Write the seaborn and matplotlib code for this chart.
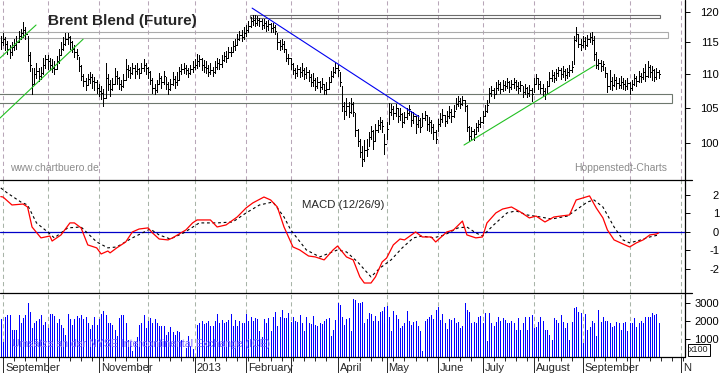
import numpy as np
import pandas as pd
import seaborn as sns
import matplotlib.pyplot as plt
from matplotlib.lines import Line2D
from matplotlib.patches import Rectangle
from matplotlib.ticker import NullLocator, FixedLocator

sns.set_style("white")
plt.rcParams['font.family'] = ['Liberation Sans', 'DejaVu Sans']
plt.rcParams['axes.unicode_minus'] = False

# ---- daily bars, Brent (one row per month, first bar = 31 Aug 2012) ----
cl = [115.0, 115.5, 114.8, 114.0, 113.5, 114.2, 114.6, 115.0, 116.0, 116.5, 117.0, 116.3, 113.0, 111.5, 108.5, 110.0, 110.5, 109.7, 110.2, 111.5, 112.3,
      112.0, 111.5, 111.0, 110.8, 112.0, 113.0, 114.0, 114.8, 115.5, 115.8, 115.0, 114.0, 113.5, 113.0, 111.3, 109.8, 109.0, 108.4, 109.3, 109.6, 109.0, 108.8, 108.0,
      107.5, 107.2, 106.5, 109.5, 108.6, 107.8, 108.5, 109.8, 109.5, 108.6, 108.2, 109.2, 110.8, 110.6, 110.2, 111.0, 110.5, 110.8, 110.2, 111.0, 111.5, 110.9,
      110.3, 109.2, 108.0, 107.6, 108.5, 109.5, 108.8, 109.7, 108.6, 107.8, 108.5, 109.3, 108.8, 109.2, 110.5, 110.8, 111.0, 110.6, 110.2, 110.8, 111.2,
      111.5, 112.0, 112.3, 111.5, 111.2, 111.0, 110.4, 110.7, 110.4, 111.2, 111.8, 111.6, 112.2, 112.8, 112.6, 113.4, 113.5, 114.4, 114.6, 115.6, 116.2, 115.8, 116.5,
      117.0, 117.6, 118.4, 118.6, 118.2, 118.6, 118.4, 117.8, 118.1, 117.6, 117.9, 117.3, 117.5, 116.9, 115.0, 114.4, 114.8, 114.0, 112.6, 112.5,
      111.6, 110.6, 110.2, 110.8, 110.3, 110.7, 110.0, 110.3, 109.6, 108.8, 109.2, 108.3, 108.8, 108.1, 108.6, 107.7, 107.8, 108.8, 109.8, 110.4, 111.0,
      110.6, 108.8, 105.2, 104.6, 105.3, 104.4, 105.6, 104.4, 101.8, 100.2, 98.8, 97.8, 99.0, 99.2, 100.8, 101.6, 100.2, 101.8, 102.5, 102.9, 102.4, 99.8,
      102.0, 104.4, 104.8, 104.2, 104.9, 103.8, 104.1, 103.0, 103.6, 104.3, 104.8, 103.2, 103.8, 102.6, 103.2, 102.2, 103.5, 104.0, 102.6, 102.9, 102.2, 101.5, 100.6,
      102.6, 103.4, 103.9, 103.1, 103.8, 104.4, 103.8, 104.6, 105.6, 106.0, 105.6, 106.2, 105.3, 102.3, 101.0, 101.6, 101.2, 102.2, 102.6, 102.9,
      103.8, 104.6, 105.4, 107.2, 107.6, 107.1, 108.0, 108.5, 107.8, 108.4, 108.3, 108.8, 108.1, 108.6, 108.9, 108.3, 107.9, 108.4, 107.3, 107.9, 107.2, 107.6, 107.1,
      108.5, 109.4, 108.5, 108.0, 107.5, 107.1, 108.2, 109.5, 109.9, 109.4, 110.2, 110.6, 110.0, 110.5, 109.9, 110.4, 110.7, 111.2, 115.4, 116.4, 114.8, 114.5,
      115.2, 114.6, 115.5, 115.9, 115.4, 113.2, 111.5, 111.8, 111.3, 111.6, 110.2, 108.2, 109.0, 108.4, 109.2, 108.7, 108.4, 108.9, 108.6, 108.2, 108.7,
      107.9, 108.6, 109.4, 109.0, 109.8, 109.6, 110.4, 109.8, 111.2, 110.4, 110.6, 109.6, 110.3, 110.0]
hi = [116.0, 116.5, 115.8, 115.2, 114.6, 115.0, 115.5, 116.0, 116.8, 117.2, 118.3, 117.5, 116.0, 113.5, 111.0, 111.0, 111.7, 111.0, 111.2, 112.5, 113.0,
      113.0, 112.6, 112.3, 112.0, 112.8, 114.0, 115.0, 115.8, 116.5, 116.5, 116.0, 115.2, 114.6, 114.0, 112.7, 111.5, 110.1, 109.5, 110.0, 110.3, 110.0, 109.6, 109.2,
      108.6, 108.3, 107.8, 111.7, 110.0, 109.2, 109.5, 110.9, 110.5, 109.6, 109.2, 110.0, 112.4, 111.5, 111.2, 111.8, 111.5, 111.8, 111.0, 111.8, 112.4, 111.8,
      111.2, 110.5, 109.4, 108.5, 109.2, 110.2, 109.8, 110.5, 109.6, 108.8, 109.3, 110.4, 109.8, 110.3, 111.2, 111.6, 111.8, 111.4, 111.0, 111.5, 112.0,
      112.4, 113.2, 113.0, 112.6, 112.2, 112.0, 111.5, 111.8, 111.2, 112.0, 112.6, 112.4, 113.0, 113.5, 113.6, 114.2, 114.3, 115.2, 115.6, 116.3, 116.9, 117.0, 117.4,
      117.8, 118.4, 119.2, 119.4, 119.4, 119.3, 119.0, 118.8, 118.8, 118.5, 118.6, 118.2, 118.2, 117.8, 116.5, 115.4, 115.6, 115.2, 114.0, 113.2,
      112.6, 111.8, 111.0, 111.5, 111.2, 111.7, 111.0, 111.2, 110.6, 110.0, 110.2, 109.5, 109.6, 109.0, 109.4, 108.6, 108.8, 109.6, 110.5, 111.2, 111.9,
      111.5, 110.4, 108.2, 105.8, 106.4, 105.8, 106.4, 105.8, 104.2, 102.0, 100.6, 99.5, 100.4, 100.5, 101.5, 102.4, 101.8, 102.6, 103.3, 103.6, 103.2, 101.2,
      103.0, 105.7, 105.6, 105.3, 105.5, 105.0, 105.0, 104.2, 104.4, 105.0, 105.4, 104.5, 104.4, 103.8, 104.0, 103.5, 104.3, 104.6, 104.0, 103.6, 103.2, 102.6, 101.8,
      103.4, 104.2, 104.8, 104.0, 104.6, 105.2, 104.8, 105.4, 106.4, 106.8, 106.4, 106.8, 106.2, 105.4, 102.4, 102.2, 102.0, 102.8, 103.2, 103.6,
      104.6, 105.4, 106.2, 108.0, 108.3, 108.0, 108.8, 109.1, 108.8, 109.2, 109.0, 109.4, 109.0, 109.2, 109.4, 109.2, 108.8, 109.0, 108.2, 108.5, 108.1, 108.4, 108.0,
      109.4, 110.1, 109.5, 109.0, 108.6, 108.0, 109.0, 110.3, 110.6, 110.3, 110.8, 111.2, 111.0, 111.3, 110.8, 111.0, 111.5, 112.0, 116.0, 117.5, 116.4, 115.6,
      116.0, 115.8, 116.2, 116.5, 116.6, 116.0, 113.4, 112.4, 112.2, 112.1, 111.2, 110.2, 110.6, 109.6, 110.0, 109.6, 109.5, 109.8, 109.4, 109.2, 109.4,
      108.8, 109.2, 110.0, 109.8, 110.5, 110.2, 111.0, 111.6, 112.0, 111.4, 111.3, 110.8, 110.9, 110.6]
lo = [114.0, 114.5, 113.8, 113.2, 112.6, 113.0, 113.8, 114.0, 115.0, 115.5, 115.8, 115.5, 112.0, 110.5, 107.1, 108.5, 109.5, 109.0, 109.3, 110.0, 111.0,
      110.8, 110.6, 110.4, 110.0, 110.8, 111.8, 113.0, 113.8, 114.5, 114.8, 114.0, 113.4, 112.7, 112.3, 110.5, 109.2, 108.3, 107.6, 108.4, 108.7, 108.0, 107.6, 107.2,
      106.8, 106.3, 105.2, 106.5, 107.6, 106.7, 107.6, 108.5, 108.6, 107.8, 107.6, 108.1, 109.2, 109.6, 109.4, 110.0, 109.5, 110.0, 109.5, 110.2, 110.5, 110.0,
      109.5, 108.5, 107.2, 107.0, 107.4, 108.5, 108.0, 108.6, 107.8, 107.0, 107.6, 108.4, 108.0, 108.4, 109.2, 110.0, 110.2, 110.0, 109.6, 110.0, 110.3,
      110.8, 111.0, 111.3, 110.7, 110.4, 110.2, 109.8, 110.0, 109.8, 110.2, 110.8, 110.8, 111.2, 112.0, 111.9, 112.6, 112.8, 113.4, 113.8, 114.6, 115.4, 115.2, 115.6,
      116.0, 116.6, 117.4, 117.8, 117.6, 117.8, 117.6, 117.2, 117.3, 116.8, 117.0, 116.7, 116.6, 116.3, 114.0, 113.8, 114.0, 113.5, 112.0, 111.6,
      110.8, 110.0, 109.5, 109.8, 109.6, 109.8, 109.3, 109.5, 109.0, 108.2, 108.3, 107.7, 107.9, 107.4, 107.8, 107.1, 107.0, 107.8, 108.8, 109.6, 110.2,
      109.8, 108.2, 104.6, 103.4, 104.0, 103.6, 104.2, 103.8, 101.0, 99.5, 98.0, 96.8, 97.5, 98.2, 99.5, 100.5, 99.2, 100.4, 101.5, 102.0, 101.5, 98.5,
      100.5, 102.6, 104.0, 103.4, 103.8, 103.0, 103.2, 102.2, 102.8, 103.4, 104.0, 102.4, 102.8, 101.4, 102.2, 101.5, 102.4, 103.2, 101.8, 101.6, 101.4, 100.6, 100.0,
      101.6, 102.4, 103.0, 102.4, 102.8, 103.5, 103.0, 103.6, 104.8, 105.2, 105.0, 105.4, 104.6, 101.6, 100.2, 100.5, 100.4, 101.2, 101.6, 102.2,
      102.8, 103.8, 104.4, 105.8, 106.8, 106.5, 107.0, 107.6, 107.2, 107.5, 107.6, 108.0, 107.4, 107.8, 108.0, 107.6, 107.2, 107.5, 106.6, 107.0, 106.6, 106.8, 106.0,
      107.4, 108.6, 107.8, 107.2, 106.8, 106.3, 107.0, 108.4, 109.0, 108.8, 109.2, 109.7, 109.3, 109.6, 109.2, 109.5, 109.8, 110.4, 111.6, 115.2, 114.2, 113.8,
      114.3, 114.0, 114.4, 115.0, 114.8, 112.2, 110.9, 110.8, 110.5, 110.6, 109.6, 107.4, 107.8, 107.6, 108.2, 107.8, 107.9, 108.0, 107.8, 107.6, 107.8,
      107.0, 107.6, 108.4, 108.2, 108.8, 108.8, 109.3, 109.0, 109.6, 109.6, 109.2, 109.0, 109.3, 109.4]

# ---- volume (x100 contracts) ----
vol = [2090, 800, 2240, 2330, 2330, 1500, 1500, 1500, 2330, 1870, 2150, 2330, 2980, 2520, 1590, 1870, 2020, 2090, 2330, 1780,
       1960, 1590, 2390, 2390, 2280, 1910, 2090, 1780, 1590, 1220, 2390, 2090, 1780, 2090, 2280, 2150, 2330, 2090, 2200, 1870,
       1540, 1780, 2240, 1780, 2090, 2390, 2570, 2330, 1870, 1870, 1780, 1500, 1130, 2150, 2330, 2330, 1870,
       900, 800, 300, 800, 1100,
       1780, 1870, 2330, 1590, 2020, 2150, 1870, 2090, 1870, 1690, 1690, 1690, 1220, 1350, 1650, 1350, 1220, 1410, 1350,
       900, 0, 500, 1130, 600, 400, 0,
       1780, 1910, 2020, 1830, 1870, 2020, 1720, 1690, 2020, 2390, 1910, 2060, 1870, 1960,
       2060, 2390, 1690, 2060, 1690, 2020, 1910, 1870, 2390, 2020, 2240, 2020, 2150, 2090, 1410, 1090, 2090, 1870, 2150, 1410,
       2240, 2520, 1690, 2240, 2610, 2150, 2150, 2430, 1960, 2240, 2020, 1960, 2330, 1870, 1460, 2240, 1870, 1830, 2280, 1780,
       1690, 1870, 1830, 2020, 2090, 2150, 1130, 1500, 2060, 2980, 2890, 2240, 1780, 2090, 2150, 1460, 3260, 3170, 3020, 2980,
       3070, 1870, 2090, 2430, 2390, 2020, 2280, 2020, 2520, 2570, 2800, 2830, 2240, 1410, 2570, 2330, 2090, 1590, 1720, 1870,
       2570, 2020, 1780, 1960, 2020, 1690, 1410, 300, 2020, 2090, 2240, 2330, 2090, 2610, 2800, 2060, 2390, 1870, 1540, 2090, 2060,
       2150, 1870, 1960, 1590, 1690, 2980, 2610, 2520, 1870, 1960, 1870, 2240, 2280, 1870, 2430, 850, 2430, 1870, 1690, 1960,
       2240, 2020, 2150, 2060, 1870, 1870, 2020, 1870, 1500, 2150, 1500, 1870, 2240, 1500, 2240, 2330, 1590, 1650, 1960, 2240,
       2020, 1500, 1500, 1220, 940, 2150, 2060, 1870, 2330, 1960, 1590, 1870, 940, 1960, 2700, 2800, 2520, 2430, 760, 2390,
       1500, 1650, 2020, 1870, 1130, 2610, 1960, 2200, 2020, 2020, 1870, 1650, 1720, 1960, 1870, 1500, 1870, 1960, 1410, 1870,
       1870, 2150, 1650, 1870, 2020, 1870, 2240, 2200, 2200, 2430, 2330, 2390, 1870]

# ---- MACD (12/26/9) ----
macd_day = [0, 1, 5, 10, 12, 14, 18, 22, 23, 27, 31, 33, 36, 39, 43, 45, 48, 49, 52, 56,
            59, 62, 66, 68, 71, 75, 77, 83, 86, 88, 94, 97, 101, 106, 110, 113, 118, 121, 124, 127,
            131, 134, 138, 141, 145, 149, 151, 155, 158, 161, 163, 166, 168, 171, 173, 176, 179, 181, 186, 189,
            193, 195, 200, 203, 207, 209, 213, 216, 218, 222, 225, 229, 233, 237, 240, 244, 248, 251, 255, 258,
            261, 264, 267, 270, 272, 275, 279, 282, 285, 288, 291, 294, 295]
macd_val = [1.91, 1.89, 1.46, 1.51, 1.35, 0.27, -0.32, -0.22, -0.49, -0.16, 0.49, 0.49, 0.22, -0.70, -0.86, -1.19, -1.03, -1.13, -0.86, -0.54,
            0.0, 0.16, 0.22, -0.05, -0.38, -0.43, -0.32, 0.11, 0.49, 0.65, 0.65, 0.27, 0.38, 0.81, 1.30, 1.57, 1.89, 1.73, 1.35, 0.27,
            -0.81, -0.97, -1.30, -1.35, -1.51, -0.97, -0.76, -1.35, -1.51, -2.43, -2.76, -2.76, -2.43, -1.62, -1.41, -0.70, -0.38, -0.43, 0.0, -0.27,
            -0.27, -0.54, 0.0, 0.11, 0.59, -0.16, -0.32, -0.27, 0.49, 1.03, 1.24, 1.35, 1.08, 0.76, 0.86, 0.54, 0.81, 0.86, 0.92, 1.73,
            1.84, 1.95, 1.30, 0.76, 0.11, -0.43, -0.65, -0.81, -0.59, -0.43, -0.16, -0.11, -0.05]
sig_day = [0, 3, 9, 12, 16, 21, 24, 30, 36, 43, 48, 52, 59, 67, 71, 76, 82, 89, 97, 104,
           110, 116, 122, 127, 130, 137, 143, 151, 155, 160, 166, 170, 175, 180, 185, 189, 194, 199, 205, 209,
           213, 216, 221, 227, 231, 236, 242, 247, 254, 258, 263, 266, 270, 275, 279, 282, 287, 291, 295]
sig_val = [2.38, 2.10, 1.62, 1.46, 0.49, 0.0, -0.32, 0.22, 0.27, -0.54, -0.86, -0.81, -0.32, 0.16, -0.16, -0.38, -0.05, 0.49, 0.49, 0.54,
           1.03, 1.46, 1.62, 0.81, 0.11, -0.97, -1.35, -0.97, -1.08, -1.62, -2.43, -1.95, -1.51, -0.86, -0.32, -0.22, -0.32, -0.16, 0.22, 0.27,
           -0.05, -0.22, 0.38, 1.03, 1.14, 0.92, 0.81, 0.70, 0.86, 1.19, 1.62, 1.73, 1.35, 0.27, -0.43, -0.59, -0.43, -0.27, -0.16]

# ---- drawn trend lines and zones ----
green_day = [[-0.4, 15.8], [-0.4, 36.9], [207.7, 266.5]]
green_price = [[112.5, 117.8], [103.5, 115.5], [99.7, 111.4]]
blue_day = [112.7, 187.5]
blue_price = [120.6, 103.7]
zone_day = [(111.7, 295.6), (-5, 299.2), (-5, 301.0)]
zone_lo = [119.03, 115.7, 105.7]
zone_hi = [119.45, 116.66, 107.04]

price_ticks = [100, 105, 110, 115, 120]
macd_ticks = [-2, -1, 0, 1, 2]
vol_ticks = [1000, 2000, 3000]
label_months = ['2012-09', '2012-11', '2013-01', '2013-02', '2013-04', '2013-05',
                '2013-06', '2013-07', '2013-08', '2013-09', '2013-11']
label_text = ['September', 'November', '2013', 'February', 'April', 'May',
              'June', 'July', 'August', 'September', 'N']

# trading-day axis (weekdays)
days = pd.bdate_range('2012-08-31', '2013-12-31')
month_starts = pd.date_range('2012-09-01', '2013-11-01', freq='MS')
month_idx = [days.searchsorted(d) for d in month_starts]
monday_idx = list(np.where(days.weekday == 0)[0])
idx = np.arange(len(cl))
vidx = np.arange(len(vol))

W, H = 723, 373
X0, X1 = -0.36, 306.8
AX_R = 685


def fx(p):
    return p / W


def fy(p):
    return 1 - p / H


def day_px(d):
    return (d - X0) / (X1 - X0) * AX_R


fig = plt.figure(figsize=(W / 100, H / 100), dpi=100)
ax_p = fig.add_axes([0, fy(180), fx(AX_R), 180 / H])
ax_m = fig.add_axes([0, fy(293), fx(AX_R), 113 / H])
ax_v = fig.add_axes([0, fy(356.5), fx(AX_R), 63.5 / H])

for ax in (ax_p, ax_m, ax_v):
    ax.set_xlim(X0, X1)
    for s in ax.spines.values():
        s.set_visible(False)
    ax.patch.set_alpha(0)

# ---- price panel ----
ax_p.set_yscale('log')
ax_p.set_ylim(94.97, 121.97)
for m in month_idx:
    ax_p.axvline(m, color='#b8a6b8', lw=0.75, dashes=(4, 3), zorder=0)
for (d0, d1), plo, phi, c in zip(zone_day, zone_lo, zone_hi, ['#6c6c6c', '#ababab', '#6e786e']):
    ax_p.add_patch(Rectangle((d0, plo), d1 - d0, phi - plo, fill=False, ec=c, lw=0.8, zorder=1))
ax_p.vlines(idx, lo, hi, color='black', lw=0.72, antialiased=False, zorder=3)
ax_p.hlines(cl, idx, idx + 0.6, color='black', lw=0.72, antialiased=False, zorder=3)
for gd, gp in zip(green_day, green_price):
    ax_p.plot(gd, gp, color='#22c022', lw=0.8, zorder=4)
ax_p.plot(blue_day, blue_price, color='#0000f0', lw=0.8, zorder=4)

# ---- MACD panel ----
ax_m.set_ylim(-3.3, 2.81)
for m in month_idx:
    ax_m.axvline(m, color='#a8b4a8', lw=0.75, dashes=(4, 3), zorder=0)
ax_m.axhline(0, color='#0000c8', lw=0.9, zorder=1)
sns.lineplot(x=sig_day, y=sig_val, ax=ax_m, color='black', lw=0.8, linestyle=(0, (2.5, 2.5)))
sns.lineplot(x=macd_day, y=macd_val, ax=ax_m, color='#ff0000', lw=0.9)

# ---- volume panel ----
ax_v.set_ylim(0, 3570)
for m in month_idx:
    ax_v.axvline(m, color='#a8b4a8', lw=0.75, dashes=(4, 3), zorder=0)
ax_v.vlines(vidx, 0, vol, color='#0000ff', lw=0.72, antialiased=False, zorder=2)

# ---- right axes ----
for ax, ticks in ((ax_p, price_ticks), (ax_m, macd_ticks), (ax_v, vol_ticks)):
    ax.set_xlabel('')
    ax.set_ylabel('')
    ax.yaxis.tick_right()
    ax.yaxis.set_minor_locator(NullLocator())
    ax.set_yticks(ticks)
    ax.set_yticklabels([str(t) for t in ticks])
    ax.tick_params(axis='y', which='major', direction='out', length=3.6, width=0.7,
                   pad=20.9, labelsize=8, colors='black')
    for t in ax.get_yticklabels():
        t.set_horizontalalignment('right')
    ax.set_xticks([])

ax_v.xaxis.set_major_locator(FixedLocator(month_idx))
ax_v.xaxis.set_minor_locator(FixedLocator([m for m in monday_idx if m <= X1]))
ax_v.tick_params(axis='x', which='major', direction='out', length=12, width=0.7,
                 labelbottom=False, bottom=True)
ax_v.tick_params(axis='x', which='minor', direction='out', length=2.8, width=0.7, bottom=True)

# frame lines
for y in (180, 293):
    fig.add_artist(Line2D([0, fx(692)], [fy(y), fy(y)], color='black', lw=0.9))
fig.add_artist(Line2D([0, fx(AX_R)], [fy(356.5), fy(356.5)], color='black', lw=0.9))
fig.add_artist(Line2D([fx(AX_R), fx(AX_R)], [fy(0), fy(357)], color='black', lw=0.9))

# month labels
for mth, txt in zip(label_months, label_text):
    d = days.searchsorted(pd.Timestamp(mth + '-01'))
    fig.text(fx(day_px(d) + 2), fy(371), txt, fontsize=8, ha='left', va='baseline')

# texts
fig.text(fx(48), fy(25), 'Brent Blend (Future)', fontsize=11, fontweight='bold', ha='left', va='baseline')
fig.text(fx(10), fy(168), 'www.chartbuero.de', fontsize=7.5, color='#8c8c8c', ha='left', va='center')
fig.text(fx(667), fy(168), 'Hoppenstedt-Charts', fontsize=7.5, color='#8c8c8c', ha='right', va='center')
fig.text(fx(302), fy(205), 'MACD (12/26/9)', fontsize=8.2, ha='left', va='center')
fig.text(fx(12), fy(344), 'Umsätze an der NYSE Intercontinental Exchange (ICE)', fontsize=7.6,
         color='#7a66ff', ha='left', va='center')
fig.text(fx(699), fy(350), 'x100', fontsize=6.5, ha='center', va='center',
         bbox=dict(boxstyle='square,pad=0.12', fc='white', ec='black', lw=0.7))

fig.savefig('out.png', dpi=100)
